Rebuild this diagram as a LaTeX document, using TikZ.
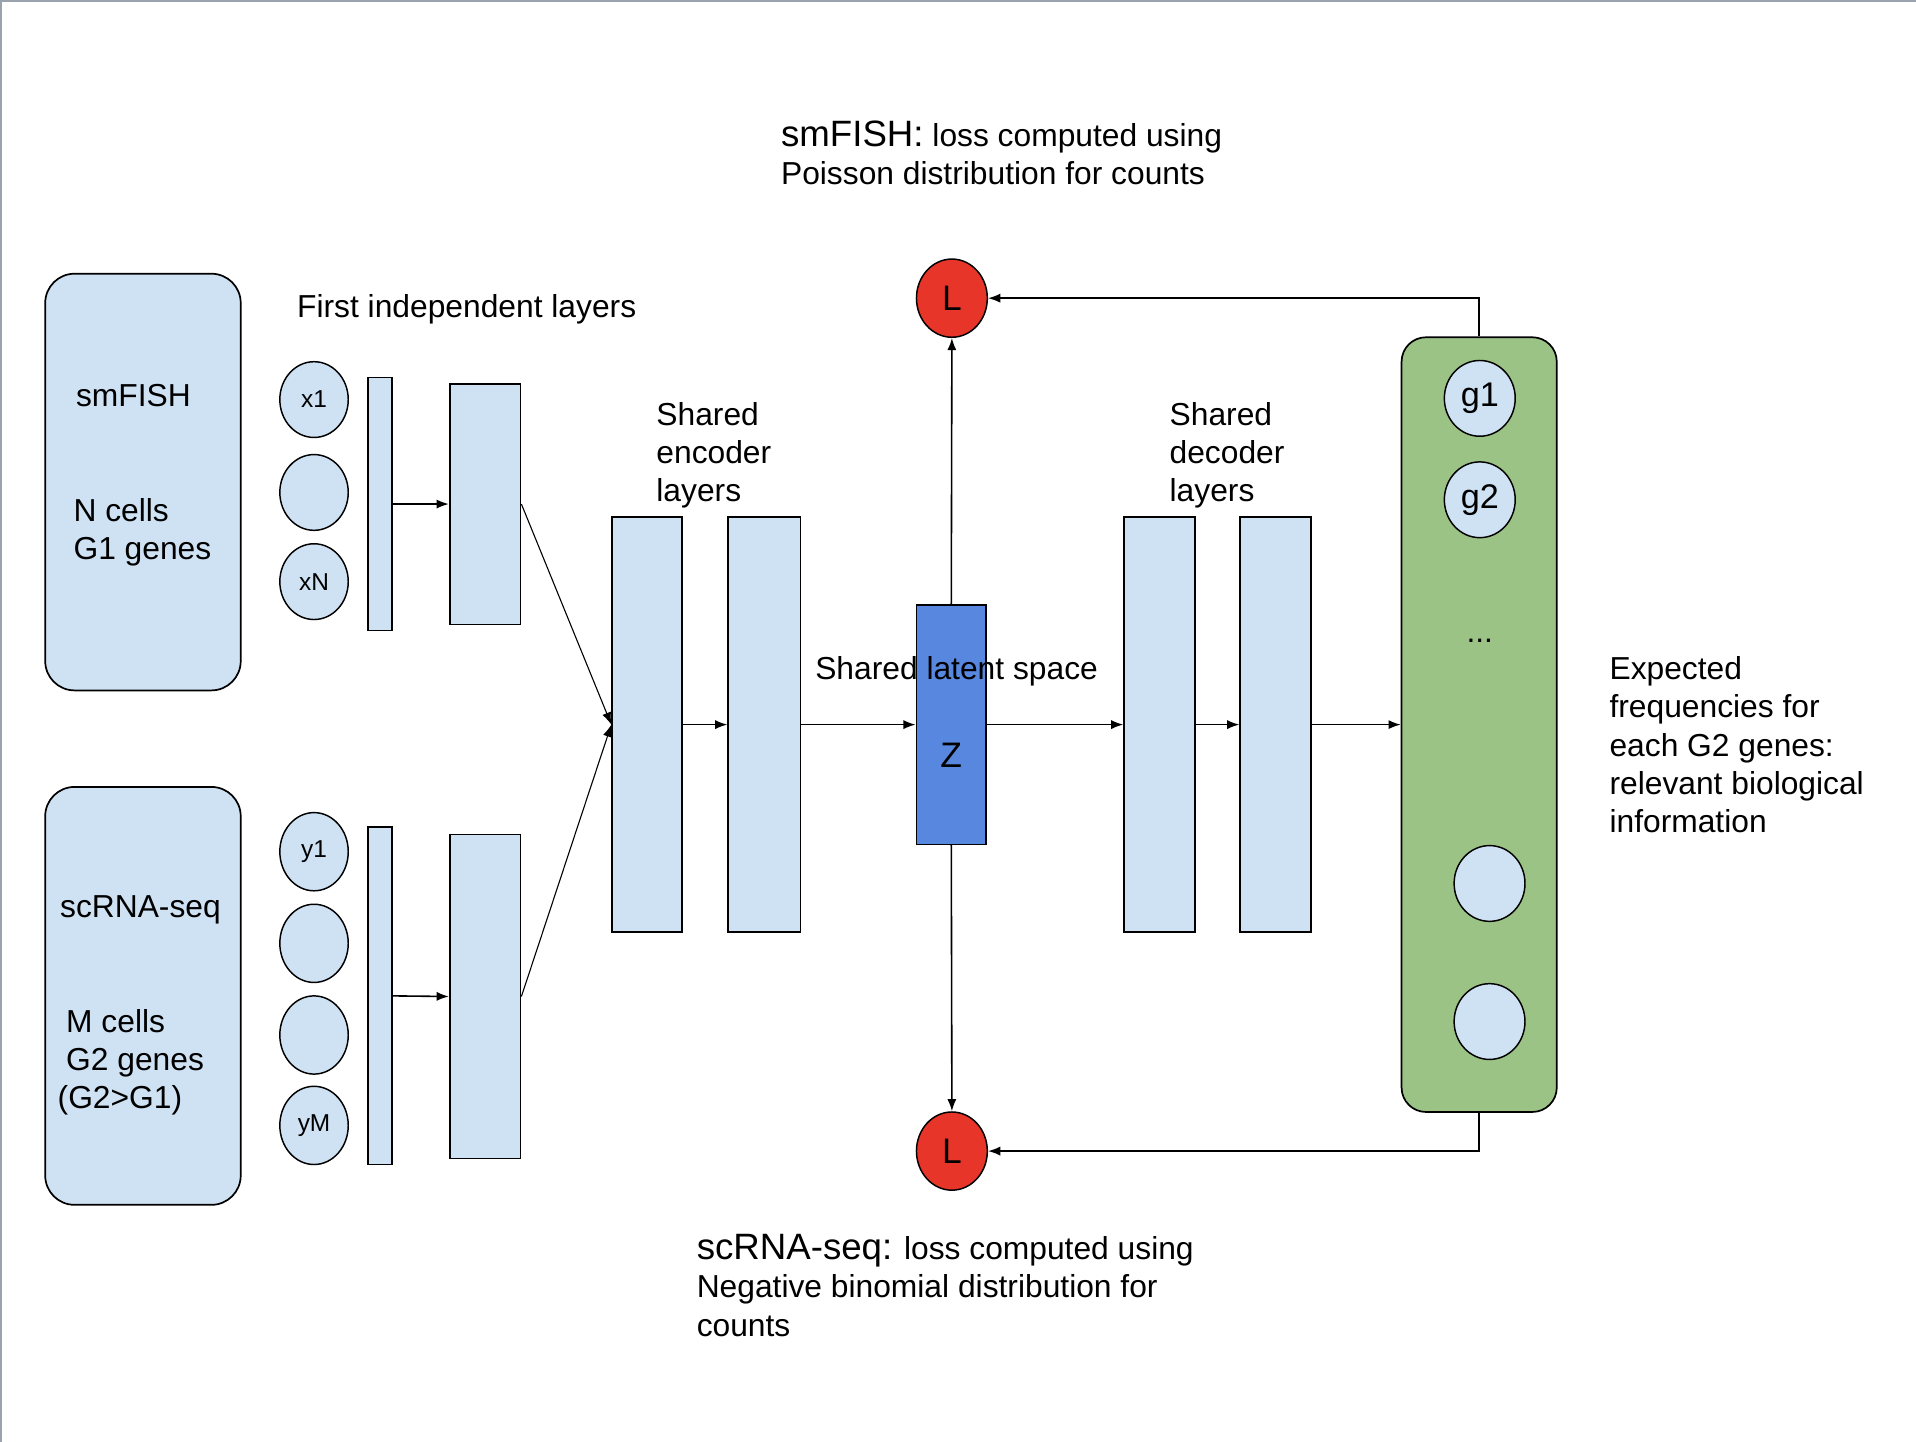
\documentclass[tikz,border=0pt]{standalone}
\usepackage{fontspec}
\setmainfont{Liberation Sans}
\usetikzlibrary{shapes.geometric,arrows.meta}
\definecolor{lblue}{HTML}{CFE2F3}
\definecolor{zblue}{HTML}{5887E0}
\definecolor{lred}{HTML}{E8352A}
\definecolor{lgreen}{HTML}{9CC386}
\definecolor{framegray}{HTML}{9AA3AD}
\newcommand\fsz[2]{\fontsize{#1}{#2}\selectfont}
\begin{document}
\begin{tikzpicture}[x=1pt,y=-1pt,
  box/.style={draw, line width=1.4pt, fill=lblue, inner sep=0pt},
  rbox/.style={box, rounded corners=24pt},
  neuron/.style={ellipse, draw, line width=1.2pt, fill=lblue, minimum width=56pt, minimum height=62pt, inner sep=0pt, font=\fsz{20}{24}},
  gnode/.style={neuron, minimum width=58pt, font=\fsz{28}{32}},
  loss/.style={ellipse, draw, line width=1.2pt, fill=lred, minimum width=58pt, minimum height=64pt, inner sep=0pt, font=\fsz{29}{33}},
  txt/.style={anchor=base west, inner sep=0pt, font=\fsz{26}{31}},
  arr/.style={-{Latex[length=10pt,width=7.5pt]}, line width=1.3pt},
  thinarr/.style={-{Latex[length=10pt,width=7.5pt]}, line width=0.9pt}]
\useasboundingbox (0,0) rectangle (1568,1180);
\fill[white] (0,0) rectangle (1568,1180);
\draw[framegray, line width=1.5pt] (0.75,1180) -- (0.75,0.75) -- (1568,0.75);

% input boxes
\node[rbox, minimum width=160pt, minimum height=341pt] (fish) at (117,394.5) {};
\node[rbox, minimum width=160pt, minimum height=342pt] (rna) at (117,815) {};
\node[txt] (fishA) at (62,333) {smFISH};
\node[txt] (fishB) at (60,427) {N cells};
\node[txt] (fishC) at (60,458) {G1 genes};
\node[txt] (rnaA) at (49,751) {scRNA-seq};
\node[txt] (rnaB) at (54,845) {M cells};
\node[txt] (rnaC) at (54,876) {G2 genes};
\node[txt] (rnaD) at (47,907) {(G2>G1)};

% input neurons
\node[neuron] (x1) at (257,327) {x1};
\node[neuron] (x2) at (257,403) {};
\node[neuron] (xN) at (257,476) {xN};
\node[neuron, minimum height=64pt] (y1) at (257,697) {y1};
\node[neuron, minimum height=64pt] (y2) at (257,772) {};
\node[neuron, minimum height=64pt] (y3) at (257,847) {};
\node[neuron, minimum height=64pt] (yM) at (257,921) {yM};

% first independent layers
\node[txt] (first) at (243,260) {First independent layers};
\node[box, minimum width=20pt, minimum height=207pt] (t1) at (311,412.5) {};
\node[box, minimum width=58pt, minimum height=197pt] (r1) at (397,412.5) {};
\node[box, minimum width=20pt, minimum height=276pt] (t2) at (311,815) {};
\node[box, minimum width=58pt, minimum height=265pt] (r2) at (397,815.5) {};

% encoder
\node[box, minimum width=57pt, minimum height=340pt] (e1) at (529.5,593) {};
\node[box, minimum width=59pt, minimum height=340pt] (e2) at (625.5,593) {};
\node[txt] (encA) at (537,348) {Shared};
\node[txt] (encB) at (537,379) {encoder};
\node[txt] (encC) at (537,410) {layers};

% latent
\node[box, fill=zblue, minimum width=57pt, minimum height=196pt] (Z) at (778.5,593) {};
\node[inner sep=0pt, font=\fsz{29}{33}] (Zl) at (778.5,618) {Z};
\node[txt] (lat) at (667,556) {Shared latent space};

% decoder
\node[box, minimum width=58pt, minimum height=340pt] (d1) at (949,593) {};
\node[box, minimum width=58pt, minimum height=340pt] (d2) at (1044,593) {};
\node[txt] (decA) at (957,348) {Shared};
\node[txt] (decB) at (957,379) {decoder};
\node[txt] (decC) at (957,410) {layers};

% output
\node[rbox, fill=lgreen, rounded corners=20pt, minimum width=127pt, minimum height=634pt] (G) at (1210.5,593) {};
\node[gnode] (g1) at (1211,326) {g1};
\node[gnode] (g2) at (1211,409) {g2};
\node[inner sep=0pt, font=\fsz{26}{31}] (dots) at (1211,524) {...};
\node[gnode] (g3) at (1219,723) {};
\node[gnode] (g4) at (1219,836) {};
\node[txt] (expA) at (1317,556) {Expected};
\node[txt] (expB) at (1317,587) {frequencies for};
\node[txt] (expC) at (1317,619) {each G2 genes:};
\node[txt] (expD) at (1317,650) {relevant biological};
\node[txt] (expE) at (1317,681) {information};

% losses
\node[loss] (Lt) at (779,244) {L};
\node[loss] (Lb) at (779,942) {L};
\node[txt] (hA) at (639,120) {{\fsz{30}{36}smFISH:} loss computed using};
\node[txt] (hB) at (639,151) {Poisson distribution for counts};
\node[txt] (sA) at (570,1031) {{\fsz{30}{36}scRNA-seq:} loss computed using};
\node[txt] (sB) at (570,1062) {Negative binomial distribution for};
\node[txt] (sC) at (570,1094) {counts};

% connectors
\draw[arr] (t1.east) -- (r1.west);
\draw[arr] (t2.east) -- (r2.west);
\draw[thinarr] (r1.east) -- (e1.west);
\draw[thinarr] (r2.east) -- (e1.west);
\draw[arr] (e1.east) -- (e2.west);
\draw[arr] (e2.east) -- (Z.west);
\draw[arr] (Z.east) -- (d1.west);
\draw[arr] (d1.east) -- (d2.west);
\draw[arr] (d2.east) -- (G.west);
\draw[arr] (Z.north) -- (Lt.south);
\draw[arr] (Z.south) -- (Lb.north);
\draw[arr] (G.north) |- (Lt.east);
\draw[arr] (G.south) |- (Lb.east);
\end{tikzpicture}
\end{document}
